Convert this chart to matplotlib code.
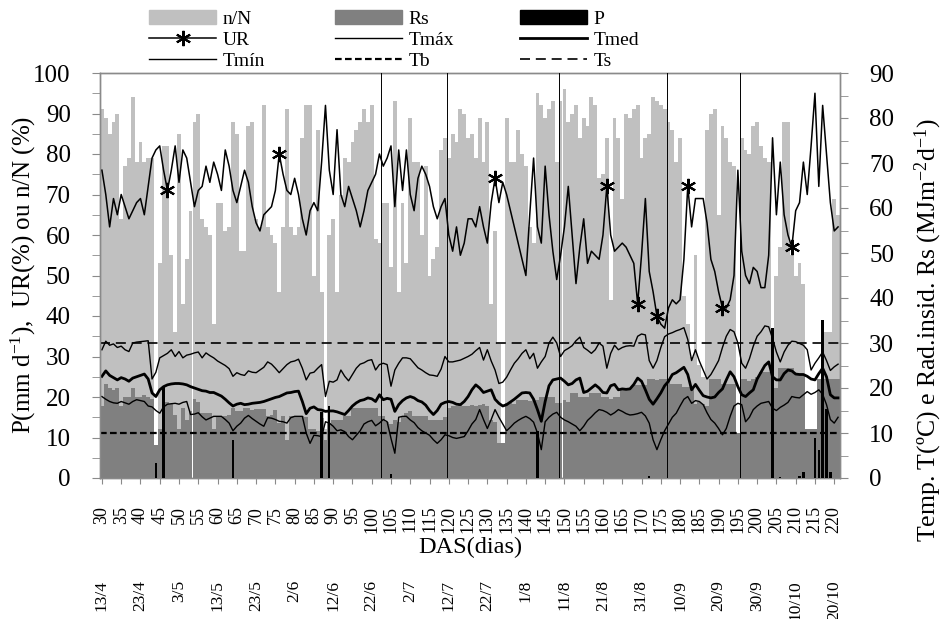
import numpy as np
import matplotlib
matplotlib.use("Agg")
import matplotlib.pyplot as plt
from matplotlib.patches import Patch
from matplotlib.lines import Line2D

plt.rcParams['font.family'] = ['Liberation Serif', 'DejaVu Serif']
plt.rcParams['mathtext.fontset'] = 'custom'
plt.rcParams['mathtext.rm'] = 'Liberation Serif'
plt.rcParams['mathtext.default'] = 'regular'

# daily series, DAS 30..221
das = np.arange(30, 222)

# n/N (%)
nN = [91, 89, 85, 88, 90, 64, 77, 79, 94, 78,
      83, 78, 79, 79, 8, 53, 82, 82, 55, 36,
      85, 43, 54, 66, 88, 90, 64, 62, 60, 38,
      68, 68, 61, 62, 88, 85, 56, 56, 87, 88,
      64, 62, 92, 62, 60, 58, 46, 62, 91, 62,
      60, 62, 84, 92, 92, 50, 86, 46, 12, 60,
      64, 46, 70, 79, 78, 83, 86, 88, 91, 88,
      92, 59, 58, 68, 68, 52, 93, 46, 68, 53,
      89, 78, 78, 60, 77, 50, 54, 57, 81, 84,
      79, 85, 83, 91, 90, 84, 85, 79, 89, 78,
      88, 43, 61, 33, 8, 89, 78, 78, 86, 80,
      77, 62, 58, 95, 92, 89, 91, 93, 78, 93,
      96, 88, 90, 92, 84, 89, 87, 94, 92, 74,
      75, 84, 44, 89, 84, 69, 90, 89, 91, 92,
      79, 84, 85, 94, 93, 92, 91, 88, 86, 78,
      84, 45, 38, 30, 55, 28, 25, 86, 90, 91,
      65, 87, 84, 78, 77, 10, 84, 81, 80, 87,
      88, 82, 79, 78, 25, 50, 57, 88, 88, 55,
      50, 53, 48, 10, 8, 12, 15, 36, 36, 36,
      69, 65]

# Rs (MJ m-2 d-1)
rs = [16.0, 21.0, 20.0, 19.5, 20.0, 16.0, 18.0, 18.0, 20.0, 18.0,
      18.0, 18.5, 18.0, 17.5, 7.3, 11.0, 17.0, 17.0, 16.5, 14.0,
      11.0, 15.6, 13.0, 15.0, 17.5, 17.0, 14.5, 14.5, 14.5, 10.8,
      13.7, 13.5, 13.7, 14.0, 15.5, 15.0, 15.0, 15.6, 15.6, 15.2,
      15.4, 15.4, 15.4, 13.7, 14.0, 15.2, 12.2, 13.7, 8.5, 13.7,
      13.7, 13.7, 13.7, 13.5, 11.0, 11.0, 10.5, 13.3, 8.5, 12.2,
      13.0, 13.0, 13.0, 13.7, 13.7, 15.6, 15.6, 15.6, 15.6, 15.6,
      15.6, 15.6, 13.7, 13.7, 12.5, 12.0, 13.0, 12.5, 13.5, 14.5,
      14.8, 13.7, 13.7, 13.7, 13.7, 13.0, 13.0, 13.0, 13.0, 13.5,
      15.6, 15.9, 15.9, 16.2, 16.0, 15.9, 16.3, 15.9, 16.2, 16.4,
      15.9, 13.0, 12.5, 7.7, 7.7, 16.6, 16.6, 16.5, 17.4, 17.4,
      17.4, 17.2, 17.4, 17.4, 18.0, 18.0, 18.0, 18.0, 16.6, 16.6,
      17.4, 17.0, 18.8, 18.8, 18.1, 18.0, 18.1, 18.9, 19.0, 19.0,
      18.1, 18.0, 17.5, 18.1, 18.1, 20.0, 20.0, 20.0, 20.6, 20.6,
      20.6, 20.6, 22.0, 22.0, 21.7, 22.0, 22.0, 21.5, 21.0, 21.0,
      21.0, 20.2, 20.2, 20.0, 16.4, 17.0, 16.4, 16.0, 22.1, 22.1,
      22.0, 21.0, 21.0, 21.0, 21.0, 10.0, 22.0, 22.0, 21.5, 22.0,
      22.5, 23.6, 23.6, 23.6, 17.0, 20.0, 24.4, 24.4, 24.4, 24.4,
      23.2, 23.2, 23.2, 11.0, 11.0, 11.0, 22.0, 22.0, 22.0, 22.0,
      22.0, 22.0]

# UR (%)
ur = [76, 70, 62, 69, 65, 70, 67, 64, 66, 68,
      69, 65, 72, 79, 81, 82, 76, 71, 76, 82,
      73, 81, 79, 73, 67, 71, 72, 77, 73, 78,
      75, 71, 81, 77, 71, 68, 72, 76, 73, 67,
      63, 61, 65, 66, 67, 71, 80, 75, 71, 70,
      74, 70, 64, 60, 66, 68, 66, 78, 92, 76,
      70, 86, 70, 67, 72, 69, 66, 62, 66, 71,
      73, 75, 80, 77, 79, 82, 67, 81, 71, 81,
      70, 66, 74, 77, 75, 72, 67, 64, 67, 69,
      60, 56, 62, 55, 58, 64, 64, 62, 67, 62,
      58, 68, 74, 68, 73, 70, 66, 62, 58, 54,
      50, 65, 79, 62, 58, 77, 65, 56, 49, 55,
      62, 72, 60, 48, 57, 64, 53, 56, 55, 54,
      60, 72, 60, 56, 57, 58, 57, 55, 53, 43,
      55, 69, 51, 46, 40, 38, 37, 42, 44, 43,
      44, 54, 72, 62, 69, 69, 69, 63, 54, 51,
      46, 42, 42, 44, 50, 76, 56, 50, 48, 52,
      51, 47, 47, 55, 84, 65, 78, 65, 60, 57,
      66, 68, 78, 70, 82, 95, 72, 92, 80, 68,
      61, 62]
ur_marks = [47, 76, 132, 161, 169, 174, 182, 191, 209]

# temperatures (oC)
tmax = [28.5, 30.4, 29.5, 29.8, 29.0, 29.3, 28.5, 28.1, 30.0, 30.2,
        30.3, 30.4, 30.5, 22.0, 23.5, 26.7, 27.2, 27.7, 28.5, 27.0,
        28.1, 26.7, 27.3, 27.5, 27.8, 28.0, 26.7, 27.8, 27.2, 26.7,
        26.0, 25.5, 25.0, 24.3, 22.6, 23.4, 23.0, 22.8, 23.8, 23.5,
        23.4, 24.0, 24.6, 25.8, 25.3, 24.4, 23.4, 24.3, 25.2, 25.8,
        26.0, 26.4, 24.4, 21.8, 23.3, 23.5, 24.4, 25.2, 18.1, 21.5,
        21.3, 21.8, 24.0, 22.6, 21.6, 23.0, 24.4, 25.3, 25.6, 26.1,
        26.3, 24.0, 25.2, 25.5, 25.2, 20.4, 24.0, 25.5, 26.7, 26.7,
        26.5, 25.5, 24.5, 24.0, 23.4, 22.9, 22.8, 22.6, 24.2, 27.0,
        25.8, 25.8, 26.0, 26.2, 26.6, 27.0, 27.5, 28.3, 29.0, 26.2,
        28.5, 26.0, 24.0, 21.0, 21.3, 22.4, 24.0, 25.5, 26.5, 27.7,
        28.5, 26.5, 27.7, 24.4, 25.8, 27.0, 30.0, 31.3, 30.0, 27.0,
        28.3, 28.8, 29.4, 30.5, 31.3, 29.0, 28.4, 27.7, 28.5, 30.0,
        29.3, 24.4, 27.7, 29.5, 28.5, 29.0, 29.3, 29.4, 29.3, 31.5,
        32.0, 31.8, 26.1, 24.4, 26.1, 29.0, 31.4, 32.0, 32.3, 32.7,
        33.0, 33.4, 30.8, 26.1, 28.5, 26.0, 24.0, 22.0, 23.0, 24.5,
        26.1, 29.0, 31.5, 33.0, 32.5, 30.0, 25.5, 24.4, 26.5, 29.3,
        31.5, 32.5, 33.8, 33.6, 31.0, 28.0, 25.8, 28.0, 29.5, 30.4,
        30.3, 29.9, 29.5, 28.5, 24.0, 25.5, 26.7, 28.0, 26.1, 23.9,
        24.7, 25.3]

tmed = [22.6, 23.8, 22.8, 22.3, 21.8, 22.3, 22.0, 21.5, 22.2, 22.5,
        22.8, 23.1, 22.0, 18.9, 18.1, 19.6, 20.3, 20.7, 20.9, 21.0,
        21.0, 20.9, 20.7, 20.3, 20.0, 19.7, 19.4, 19.3, 19.0, 19.0,
        18.6, 18.2, 17.5, 16.7, 16.0, 16.4, 16.6, 16.3, 16.4, 16.6,
        16.7, 16.8, 17.0, 17.3, 17.6, 17.9, 18.1, 18.5, 18.9, 19.0,
        19.2, 19.3, 17.0, 14.3, 15.5, 15.8, 15.2, 15.1, 14.8, 14.9,
        14.9, 14.7, 14.4, 14.1, 15.0, 16.0, 16.7, 17.2, 17.4, 17.8,
        17.6, 17.0, 18.5, 17.4, 17.7, 17.5, 14.8, 16.3, 17.2, 17.8,
        18.1, 17.8, 17.2, 16.9, 16.2, 15.0, 14.1, 15.0, 16.4, 16.8,
        17.0, 16.8, 16.4, 16.3, 17.0, 18.1, 19.6, 20.7, 20.0, 19.0,
        19.3, 19.6, 17.5, 16.6, 16.0, 16.3, 16.9, 17.5, 18.2, 18.9,
        19.0, 18.9, 17.5, 15.2, 12.6, 17.0, 20.5, 21.8, 22.0, 22.2,
        21.5, 20.7, 21.0, 21.8, 22.2, 19.0, 19.3, 20.0, 20.7, 20.0,
        19.0, 18.9, 20.5, 20.8, 19.6, 19.8, 19.7, 19.8, 20.8, 22.2,
        21.5, 19.6, 17.5, 16.4, 17.6, 18.9, 20.5, 21.5, 23.0, 23.4,
        24.0, 24.6, 23.0, 19.6, 20.8, 19.5, 18.3, 18.0, 17.8, 18.0,
        19.0, 19.8, 21.8, 23.6, 22.5, 20.3, 18.5, 18.1, 18.9, 19.6,
        22.0, 23.5, 25.0, 25.8, 22.5, 21.8, 21.8, 23.2, 24.0, 23.8,
        23.1, 23.0, 23.0, 22.6, 22.0, 21.8, 23.2, 24.4, 22.5, 18.5,
        17.8, 17.8]

tmin = [18.1, 17.5, 17.0, 16.7, 16.6, 17.0, 16.7, 16.4, 17.0, 17.4,
        17.2, 17.0, 16.0, 15.8, 15.0, 14.4, 15.8, 16.4, 16.5, 16.6,
        16.4, 16.8, 17.0, 14.1, 14.2, 14.5, 13.6, 12.9, 13.3, 13.7,
        13.7, 13.7, 13.0, 12.2, 10.5, 11.5, 12.2, 13.3, 13.9, 13.2,
        12.6, 12.0, 11.5, 13.4, 13.3, 13.0, 12.6, 12.5, 12.2, 13.4,
        13.7, 13.7, 13.7, 10.0, 7.7, 9.5, 9.4, 9.2, 12.5, 12.2,
        11.5, 10.5, 10.7, 10.3, 9.2, 8.5, 9.5, 10.5, 12.0, 12.5,
        12.8, 11.6, 12.2, 13.0, 12.5, 8.8, 5.5, 13.5, 13.7, 13.7,
        12.9, 12.3, 11.2, 10.5, 10.0, 9.5, 8.5, 7.7, 8.5, 9.6,
        9.4, 9.0, 8.8, 9.0, 9.2, 10.5, 12.0, 13.0, 15.2, 13.0,
        11.0, 13.0, 15.2, 13.5, 12.0, 10.5, 11.3, 12.2, 12.8, 13.3,
        13.7, 13.2, 12.4, 10.0, 6.3, 12.5, 13.5, 14.2, 14.6, 13.5,
        12.9, 12.5, 12.0, 11.5, 10.5, 11.5, 12.8, 13.6, 14.5, 15.2,
        15.0, 14.6, 14.0, 14.5, 15.2, 14.8, 14.3, 14.0, 14.1, 14.3,
        14.6, 13.8, 12.2, 8.5, 6.3, 8.5, 10.5, 12.0, 13.5, 14.4,
        16.0, 17.5, 18.1, 16.6, 17.2, 17.0, 16.3, 14.5, 13.0, 12.2,
        11.0, 9.6, 11.0, 13.7, 16.0, 16.6, 16.3, 12.5, 13.5, 15.2,
        16.0, 16.6, 16.8, 17.0, 15.5, 15.0, 15.7, 16.2, 16.8, 18.1,
        17.9, 17.8, 18.5, 19.2, 18.6, 19.0, 19.6, 18.6, 16.3, 13.0,
        12.2, 13.5]

# precipitation (mm d-1), only rainy days
p_days = [44, 46, 64, 87, 89, 105, 143, 172, 204, 206, 211, 212, 215, 216, 217, 218, 219]
p_vals = [3.7, 22.5, 9.5, 16.4, 17.8, 1.0, 11.5, 0.5, 37.0, 0.3, 0.5, 1.5, 10.0, 7.0, 39.0, 17.0, 1.5]

tb = 10   # base temperature
ts = 30   # upper temperature
stage_das = [102.5, 119.5, 148.5, 176.5, 195.5]

date_das = list(range(30, 221, 10))
date_labels = ['13/4', '23/4', '3/5', '13/5', '23/5', '2/6', '12/6', '22/6', '2/7', '12/7',
               '22/7', '1/8', '11/8', '21/8', '31/8', '10/9', '20/9', '30/9', '10/10', '20/10']

light = '#c0c0c0'
dark = '#808080'
spine_c = '#8a8a8a'

fig = plt.figure(figsize=(9.45, 6.19), dpi=100)
ax = fig.add_axes([100 / 945, 1 - 478 / 619, 740 / 945, 405 / 619])
ax2 = ax.twinx()
ax3 = ax.twinx()

# bars: n/N behind, Rs over it, rain on top
ax.bar(das, nN, width=1.0, color=light, linewidth=0)
ax2.bar(das, rs, width=1.0, color=dark, linewidth=0)
ax3.bar(p_days, p_vals, width=0.6, color='black', linewidth=0)

# temperature lines on the right axis
ax2.plot(das, tmax, color='black', lw=1.0)
ax2.plot(das, tmed, color='black', lw=2.0)
ax2.plot(das, tmin, color='black', lw=1.0)
ax2.axhline(tb, color='black', lw=1.6, dashes=(3, 1.5))
ax2.axhline(ts, color='black', lw=1.2, dashes=(6, 3.5))

# relative humidity with asterisks
ax3.plot(das, ur, color='black', lw=1.1, marker=(6, 2, 0), ms=11, mew=1.5,
         markevery=[d - 30 for d in ur_marks])
for d in stage_das:
    ax3.axvline(d, color='black', lw=0.7)

ax.set_xlim(29.5, 221.5)
ax.set_ylim(0, 100)
ax2.set_ylim(0, 90)
ax3.set_ylim(0, 100)
ax3.set_axis_off()

ax.set_xticks(range(30, 221, 5))
ax.tick_params(axis='x', direction='out', length=4, color=spine_c, pad=16,
               labelsize=13, labelrotation=90)
ax.set_yticks(range(0, 101, 10))
ax.set_yticks(range(5, 100, 10), minor=True)
ax.tick_params(axis='y', which='both', direction='out', length=6, color=spine_c,
               pad=15, labelsize=18)
ax2.set_yticks(range(0, 91, 10))
ax2.set_yticks(range(5, 90, 10), minor=True)
ax2.tick_params(axis='y', which='both', direction='out', length=6, color=spine_c,
                pad=15, labelsize=18)
for a in (ax, ax2):
    for s in a.spines.values():
        s.set_color(spine_c)
        s.set_linewidth(1.0)

# calendar dates under the DAS ticks
sec = ax.secondary_xaxis(-0.252)
sec.set_xticks(date_das, labels=date_labels)
sec.tick_params(length=0, pad=0, labelsize=12.5, labelrotation=90)
sec.spines['bottom'].set_visible(False)

fig.text(470 / 945, 1 - 547 / 619, 'DAS(dias)', ha='center', va='center', fontsize=17.5)
fig.text(23 / 945, 1 - 275 / 619, 'P(mm d$^{-1}$),  UR(%) ou n/N (%)',
         rotation=90, ha='center', va='center', fontsize=18)
fig.text(928 / 945, 1 - 330 / 619, 'Temp. T(ºC) e Rad.insid. Rs (MJm$^{-2}$d$^{-1}$)',
         rotation=90, ha='center', va='center', fontsize=18.5)

# legend in three columns above the plot
cols = [
    ([Patch(color=light), Line2D([], [], color='black', lw=1.1, marker=(6, 2, 0), ms=11, mew=1.5),
      Line2D([], [], color='black', lw=1.0)], ['n/N', 'UR', 'Tmín'], 149),
    ([Patch(color=dark), Line2D([], [], color='black', lw=1.0),
      Line2D([], [], color='black', lw=1.6, dashes=(3, 1.5))], ['Rs', 'Tmáx', 'Tb'], 335),
    ([Patch(color='black'), Line2D([], [], color='black', lw=2.0),
      Line2D([], [], color='black', lw=1.2, dashes=(6, 3.5))], ['P', 'Tmed', 'Ts'], 520),
]
for handles, labels, x0 in cols:
    fig.legend(handles, labels, loc='upper left', bbox_to_anchor=(x0 / 945, 1 - 10 / 619),
               frameon=False, fontsize=14, handlelength=3.45, handletextpad=0.35,
               labelspacing=0.18, borderpad=0, borderaxespad=0)

fig.savefig('out.png', dpi=100)
